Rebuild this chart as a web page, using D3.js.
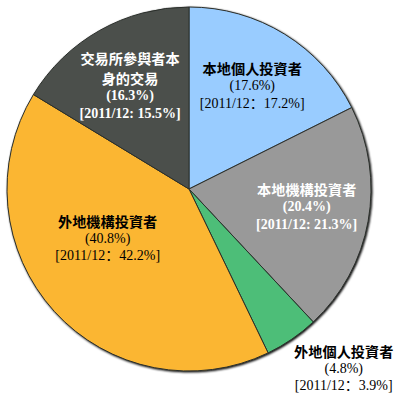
<!DOCTYPE html>
<html><head><meta charset="utf-8">
<script src="https://cdn.jsdelivr.net/npm/d3@7"></script>
<style>body{margin:0;background:#fff}svg{display:block}</style>
</head><body>
<svg id="c" width="400" height="393"></svg>
<script>
const categories = ["本地個人投資者","本地機構投資者","外地個人投資者","外地機構投資者","交易所參與者本身的交易"];
const shares = [17.6, 20.4, 4.8, 40.8, 16.3];
const prevShares = ["17.2%","21.3%","3.9%","42.2%","15.5%"];
const shareLabels = ["(17.6%)","(20.4%)","(4.8%)","(40.8%)","(16.3%)"];
const colors = ["#99CCFF","#999999","#4DBE78","#FBB633","#4B504C"];

// label styling per slice (not data)
const labelCfg = [
  {titleLines:["本地個人投資者"], color:"#000", boldAll:false, colon:"：", ang:0.55, r:121},
  {titleLines:["本地機構投資者"], color:"#fff", boldAll:true, colon:": ", ang:1.72, r:119},
  {titleLines:["外地個人投資者"], color:"#000", boldAll:false, colon:"：", ang:2.43, r:237},
  {titleLines:["外地機構投資者"], color:"#000", boldAll:false, colon:"：", ang:4.17, r:95},
  {titleLines:["交易所參與者本","身的交易"], color:"#fff", boldAll:true, colon:": ", ang:5.76, r:118}
];

const svg = d3.select("#c");
const cx = 189, cy = 189, R = 182;
const g = svg.append("g").attr("transform", `translate(${cx},${cy})`);

const pie = d3.pie().sort(null).value(d => d)(shares);
const arc = d3.arc().innerRadius(0).outerRadius(R);

const defs = svg.append("defs");
const f = defs.append("filter").attr("id","sh").attr("x","-10%").attr("y","-10%").attr("width","120%").attr("height","120%");
f.append("feGaussianBlur").attr("in","SourceAlpha").attr("stdDeviation",1.2);
f.append("feOffset").attr("dx",0.5).attr("dy",1.2).attr("result","b");
const m = f.append("feMerge"); m.append("feMergeNode").attr("in","b"); m.append("feMergeNode").attr("in","SourceGraphic");

const sg = g.append("g").attr("filter","url(#sh)");
sg.selectAll("path").data(pie).join("path")
  .attr("d", arc)
  .attr("fill", (d,i) => colors[i])
  .attr("stroke", "#2b2f2b")
  .attr("stroke-width", 1);

const fam = "'Liberation Serif','Times New Roman','Noto Sans CJK SC',serif";
const lh = 17.5, lhTitle = 20.5;
pie.forEach((d,i) => {
  const c = labelCfg[i];
  const x = Math.sin(c.ang) * c.r;
  const y = -Math.cos(c.ang) * c.r;
  const nT = c.titleLines.length;
  const nLines = nT + 2;
  const yShare = y - (nLines - 1) * lh / 2 + nT * lh;
  const items = [];
  c.titleLines.forEach((t, k) => items.push({t, bold:true, size:14.2, cjk:true,
    y: yShare - lh - (nT - 1 - k) * lhTitle}));
  items.push({t: shareLabels[i], bold:c.boldAll, size:14, y: yShare});
  items.push({t: "[2011/12" + c.colon + prevShares[i] + "]", bold:c.boldAll, size:14, y: yShare + lh});
  items.forEach(l => {
    g.append("text")
      .attr("text-anchor","middle")
      .attr("fill", c.color)
      .attr("x", x)
      .attr("y", l.y)
      .attr("dominant-baseline","central")
      .style("font-size", l.size + "px")
      .style("font-weight", l.bold ? "bold" : "normal")
      .style("font-family", l.cjk ? "'Noto Sans CJK TC',sans-serif" : fam)
      .text(l.t);
  });
});
</script>
</body></html>
